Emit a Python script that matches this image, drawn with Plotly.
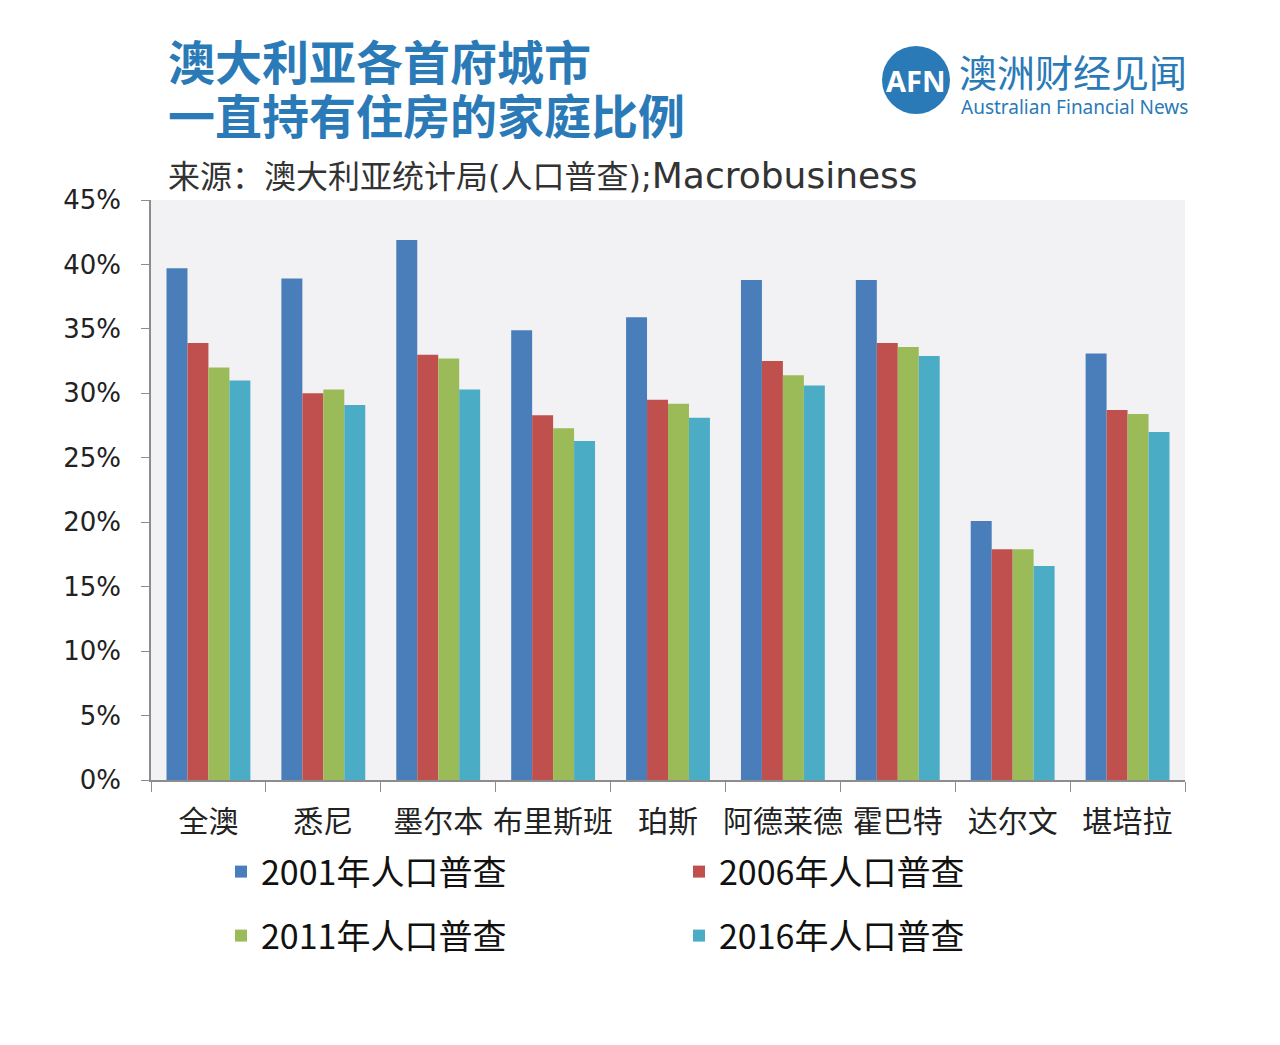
import plotly.graph_objects as go

cities = ["全澳", "悉尼", "墨尔本", "布里斯班", "珀斯", "阿德莱德", "霍巴特", "达尔文", "堪培拉"]
series_names = ["2001年人口普查", "2006年人口普查", "2011年人口普查", "2016年人口普查"]
v2001 = [39.7, 38.9, 41.9, 34.9, 35.9, 38.8, 38.8, 20.1, 33.1]
v2006 = [33.9, 30.0, 33.0, 28.3, 29.5, 32.5, 33.9, 17.9, 28.7]
v2011 = [32.0, 30.3, 32.7, 27.3, 29.2, 31.4, 33.6, 17.9, 28.4]
v2016 = [31.0, 29.1, 30.3, 26.3, 28.1, 30.6, 32.9, 16.6, 27.0]
y_ticks = [0, 5, 10, 15, 20, 25, 30, 35, 40, 45]
y_tick_labels = [f"{t}%" for t in y_ticks]

colors = ["#4a7ebb", "#c0504d", "#9bbb59", "#4bacc6"]
values = [v2001, v2006, v2011, v2016]
legend_ids = ["legend", "legend", "legend2", "legend2"]

# page body has an 8px offset; plot area target: x 151..1185, y 200..780
OFF = 8
PL, PR, PT, PB = 151 - OFF, 1185 - OFF, 200 - OFF, 780 - OFF
W, H = 1280, 1045
PW, PH = PR - PL, PB - PT


def px(xpix):
    return (xpix - OFF - PL) / PW


def py(ypix):
    return (PB - (ypix - OFF)) / PH


fig = go.Figure()
for name, vals, col, lg in zip(series_names, values, colors, legend_ids):
    fig.add_trace(go.Bar(x=cities, y=vals, name=name, legend=lg,
                         marker=dict(color=col, line=dict(width=0))))

legend_common = dict(
    orientation="h",
    xanchor="left", yanchor="top",
    font=dict(size=34, family="Noto Sans CJK SC", color="#111111"),
    entrywidth=413, entrywidthmode="pixels",
    itemwidth=30,
    bgcolor="rgba(0,0,0,0)",
)

fig.update_layout(
    width=W, height=H,
    margin=dict(l=PL, r=W - PR, t=PT, b=H - PB),
    paper_bgcolor="white",
    plot_bgcolor="#f2f2f4",
    barmode="group",
    bargap=0.27,
    bargroupgap=0,
    font=dict(family="Noto Sans CJK SC", color="#222222"),
    showlegend=True,
    legend=dict(x=px(221), y=py(843), **legend_common),
    legend2=dict(x=px(221), y=py(907), **legend_common),
)

fig.update_yaxes(
    range=[0, 45],
    tickvals=y_ticks, ticktext=y_tick_labels,
    tickfont=dict(size=26, family="DejaVu Sans", color="#222222"),
    showgrid=False, zeroline=False,
    showline=True, linecolor="#8c8c8c", linewidth=1.5,
    ticks="outside", ticklen=8, tickcolor="#8c8c8c",
    ticklabelstandoff=15,
)
fig.update_xaxes(
    showline=True, linecolor="#8c8c8c", linewidth=1.5,
    ticks="outside", ticklen=10, tickcolor="#8c8c8c",
    tickson="boundaries",
    tickangle=0,
    ticklabelstandoff=14,
    tickfont=dict(size=30, family="Noto Sans CJK SC", color="#222222"),
    showgrid=False,
)

title_color = "#2a7ab8"
fig.add_annotation(text="<b>澳大利亚各首府城市</b>", xref="paper", yref="paper",
                   x=px(166), y=py(59), xanchor="left", yanchor="middle", showarrow=False,
                   font=dict(size=47, color=title_color, family="Noto Sans CJK SC"))
fig.add_annotation(text="<b>一直持有住房的家庭比例</b>", xref="paper", yref="paper",
                   x=px(166), y=py(113), xanchor="left", yanchor="middle", showarrow=False,
                   font=dict(size=47, color=title_color, family="Noto Sans CJK SC"))
fig.add_annotation(text="来源：澳大利亚统计局(人口普查);<span style='font-size:36px'>Macrobusiness</span>",
                   xref="paper", yref="paper",
                   x=px(166), y=py(176), xanchor="left", yanchor="middle", showarrow=False,
                   font=dict(size=32, color="#333333", family="DejaVu Sans, Noto Sans CJK SC"))

# Logo
fig.add_shape(type="circle", xref="paper", yref="paper",
              x0=px(882), x1=px(950), y0=py(114), y1=py(46),
              fillcolor="#2a7ab8", line=dict(width=0))
fig.add_annotation(text="<b>AFN</b>", xref="paper", yref="paper",
                   x=px(916), y=py(80), showarrow=False,
                   xanchor="center", yanchor="middle",
                   font=dict(size=29, color="white", family="Noto Sans"))
fig.add_annotation(text="澳洲财经见闻", xref="paper", yref="paper",
                   x=px(957), y=py(70), showarrow=False,
                   xanchor="left", yanchor="middle",
                   font=dict(size=38, color="#2a7ab8", family="Noto Sans CJK SC"))
fig.add_annotation(text="Australian Financial News", xref="paper", yref="paper",
                   x=px(959), y=py(107), showarrow=False,
                   xanchor="left", yanchor="middle",
                   font=dict(size=19, color="#2a7ab8", family="Noto Sans"))

fig.write_html("out.html")
